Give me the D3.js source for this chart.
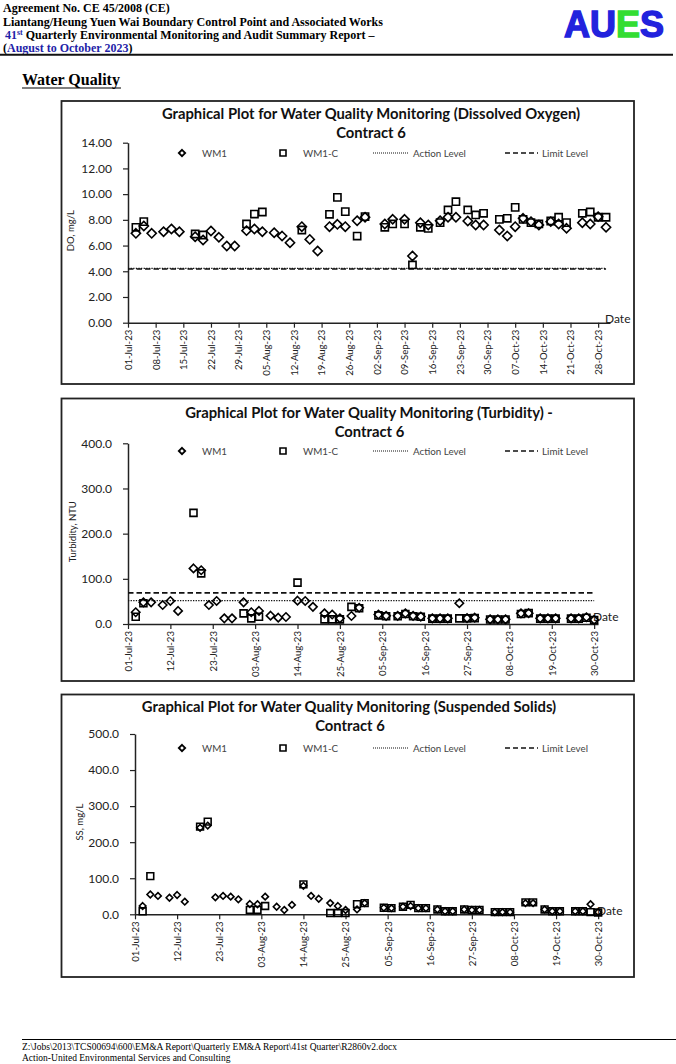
<!DOCTYPE html>
<html>
<head>
<meta charset="utf-8">
<script src="https://cdn.jsdelivr.net/npm/d3@7"></script>
<style>
  body { margin: 0; background: #fff; }
  .hdr { font-family: "Liberation Serif", "DejaVu Serif", serif; font-weight: bold; font-size: 12px; fill: #000; }
  .blue { fill: #1f1fa8; }
  .foot { font-family: "Liberation Serif", serif; font-size: 9.5px; fill: #000; }
  .chart text { font-family: Lato, "Open Sans", sans-serif; }
</style>
</head>
<body>
<svg id="page" width="676" height="1064"></svg>
<script>
// sampling days (Mon/Wed/Fri mostly), shared by the three plots
var sampleDates = [
  "2023-07-03", "2023-07-05", "2023-07-07", "2023-07-10", "2023-07-12", "2023-07-14", "2023-07-18",
  "2023-07-20", "2023-07-22", "2023-07-24", "2023-07-26", "2023-07-28", "2023-07-31",
  "2023-08-02", "2023-08-04", "2023-08-07", "2023-08-09", "2023-08-11", "2023-08-14", "2023-08-16",
  "2023-08-18", "2023-08-21", "2023-08-23", "2023-08-25", "2023-08-28", "2023-08-30",
  "2023-09-04", "2023-09-06", "2023-09-09", "2023-09-11", "2023-09-13", "2023-09-15", "2023-09-18",
  "2023-09-20", "2023-09-22", "2023-09-25", "2023-09-27", "2023-09-29",
  "2023-10-03", "2023-10-05", "2023-10-07", "2023-10-09", "2023-10-11", "2023-10-13", "2023-10-16",
  "2023-10-18", "2023-10-20", "2023-10-24", "2023-10-26", "2023-10-28", "2023-10-30"
];

// Dissolved oxygen, mg/L
var doWM1 = [
  6.95, 7.52, 6.95, 7.08, 7.29, 7.08, 6.69, 6.43, 7.13, 6.64, 5.97, 5.97, 7.16,
  7.29, 7.08, 7.00, 6.74, 6.22, 7.47, 6.48, 5.58, 7.47, 7.65, 7.47, 7.93, 8.20,
  7.68, 8.04, 8.04, 5.19, 7.78, 7.60, 7.93, 8.20, 8.20, 7.91, 7.60, 7.60,
  7.21, 6.74, 7.47, 8.12, 7.86, 7.60, 7.86, 7.68, 7.34, 7.78, 7.68, 8.25, 7.42
];
var doWM1C = [
  7.42, 7.86, null, null, null, null, 6.90, 6.82, null, null, null, null, 7.68,
  8.45, 8.61, null, null, null, 7.21, null, null, 8.43, 9.75, 8.64, 6.74, 8.25,
  7.42, 7.68, 7.68, 4.49, 7.42, 7.34, 7.78, 8.77, 9.41, 8.77, 8.38, 8.51,
  8.04, 8.12, 8.97, 8.04, 7.78, 7.68, 7.91, 8.20, 7.78, 8.51, 8.61, 8.20, 8.20
];

// Turbidity, NTU
var turbWM1 = [
  26, 48, 48, 42, 51, 29, 123, 119, 42, 51, 12.5, 12.5, 48,
  26, 29, 18.5, 14, 15.5, 51.6, 51, 38, 23.6, 21, 12.5, 17.7, 36,
  21, 18, 18, 23.6, 18, 16.5, 12.5, 12.5, 12.5, 46, 13, 14,
  10.3, 10.3, 10.3, null, 23.6, 24, 12.5, 12.5, 12.5, 12.5, 12.5, 15, 9
];
var turbWM1C = [
  16, 46, null, null, null, null, 246, 112, null, null, null, null, 23.6,
  12.5, 16, null, null, null, 91.5, null, null, 10.3, 10.3, 10.3, 38, 35,
  19, 17, 17, 22, 17, 16, 12, 12, 12, 12.5, 12.5, 13,
  10, 10, 10, null, 22, 24, 12, 12, 12, 12, 12, 14, 9
];

// Suspended solids, mg/L
var ssWM1 = [
  23, 55, 51, 46, 53.5, 35, 240, 246, 47, 51, 49, 41.5, 28.5,
  28, 49, 21, 12, 26, 79, 51, 43, 31, 23, 12, 13.5, 31,
  18, 17, 21, 23, 17, 17, 13.5, 8.5, 8.5, 13.5, 12, 12,
  6, 6, 6, null, 31, 31, 13.5, 8.5, 8.5, 8.5, 8.5, 28, 6
];
var ssWM1C = [
  8.3, 106, null, null, null, null, 243, 257, null, null, null, null, 12,
  12, 23, null, null, null, 83, null, null, 3.5, 3.5, 3.5, 28, 31,
  18, 17, 21, 26, 17, 17, 13.5, 8.5, 8.5, 13.5, 12, 12,
  6, 6, 6, null, 33, 33, 13.5, 8.5, 8.5, 8.5, 8.5, 6, 5
];

// action / limit levels (SS levels sit outside the plotted range)
var doAction = 4.22, doLimit = 4.18;
var turbAction = 51.6, turbLimit = 69;
var ssAction = null, ssLimit = null;

var weeklyTicks = ["01-Jul-23", "08-Jul-23", "15-Jul-23", "22-Jul-23", "29-Jul-23", "05-Aug-23",
  "12-Aug-23", "19-Aug-23", "26-Aug-23", "02-Sep-23", "09-Sep-23", "16-Sep-23", "23-Sep-23",
  "30-Sep-23", "07-Oct-23", "14-Oct-23", "21-Oct-23", "28-Oct-23"];
var elevenDayTicks = ["01-Jul-23", "12-Jul-23", "23-Jul-23", "03-Aug-23", "14-Aug-23", "25-Aug-23",
  "05-Sep-23", "16-Sep-23", "27-Sep-23", "08-Oct-23", "19-Oct-23", "30-Oct-23"];

var parseIso = d3.timeParse("%Y-%m-%d");
var parseTick = d3.timeParse("%d-%b-%y");
var svg = d3.select("#page");

// ---------- page header ----------
svg.append("text").attr("class", "hdr").attr("x", 3).attr("y", 12).text("Agreement No. CE 45/2008 (CE)");
svg.append("text").attr("class", "hdr").attr("x", 3).attr("y", 25.5)
  .text("Liantang/Heung Yuen Wai Boundary Control Point and Associated Works");
var l3 = svg.append("text").attr("class", "hdr").attr("x", 5).attr("y", 39);
l3.append("tspan").attr("class", "blue").text("41");
l3.append("tspan").attr("class", "blue").style("font-size", "8px").attr("dy", -4).text("st");
l3.append("tspan").attr("dy", 4).text(" Quarterly Environmental Monitoring and Audit Summary Report \u2013");
var l4 = svg.append("text").attr("class", "hdr").attr("x", 3).attr("y", 52);
l4.append("tspan").text("(");
l4.append("tspan").attr("class", "blue").text("August to October 2023");
l4.append("tspan").text(")");

var logo = svg.append("text").attr("x", 564).attr("y", 37)
  .attr("font-family", "Liberation Sans, Arial, sans-serif").attr("font-weight", "bold")
  .attr("font-size", 36).attr("stroke-width", 1.4);
[["A", "#2222dd"], ["U", "#2222dd"], ["E", "#33dd33"], ["S", "#2222dd"]].forEach(function (p) {
  logo.append("tspan").attr("fill", p[1]).attr("stroke", p[1]).text(p[0]);
});

svg.append("line").attr("x1", 0).attr("x2", 673).attr("y1", 54.8).attr("y2", 54.8)
  .attr("stroke", "#111").attr("stroke-width", 2);

svg.append("text").attr("class", "hdr").attr("x", 22).attr("y", 84.5).style("font-size", "16px")
  .text("Water Quality");
svg.append("line").attr("x1", 22).attr("x2", 121).attr("y1", 88).attr("y2", 88)
  .attr("stroke", "#000").attr("stroke-width", 1.2);

// ---------- footer ----------
svg.append("line").attr("x1", 22).attr("x2", 676).attr("y1", 1039.5).attr("y2", 1039.5)
  .attr("stroke", "#000").attr("stroke-width", 1);
svg.append("text").attr("class", "foot").attr("x", 22).attr("y", 1050)
  .text("Z:\\Jobs\\2013\\TCS00694\\600\\EM&A Report\\Quarterly EM&A Report\\41st Quarter\\R2860v2.docx");
svg.append("text").attr("class", "foot").attr("x", 22).attr("y", 1061)
  .text("Action-United Environmental Services and Consulting");

// ---------- charts ----------
function diamond(r) {
  return "M0," + (-r) + "L" + r + ",0L0," + r + "L" + (-r) + ",0Z";
}
function square(h) {
  return "M" + (-h) + "," + (-h) + "H" + h + "V" + h + "H" + (-h) + "Z";
}

function drawChart(c) {
  var g = svg.append("g").attr("class", "chart");

  g.append("rect")
    .attr("x", c.frame[0]).attr("y", c.frame[1])
    .attr("width", c.frame[2] - c.frame[0]).attr("height", c.frame[3] - c.frame[1])
    .attr("fill", "#fff").attr("stroke", "#222").attr("stroke-width", 1.8);

  // titles
  g.append("text").attr("x", c.titleX).attr("y", c.titleY[0]).attr("text-anchor", "middle")
    .attr("font-weight", "bold").attr("font-size", 14.8).attr("fill", "#111").text(c.title);
  g.append("text").attr("x", c.titleX2).attr("y", c.titleY[1]).attr("text-anchor", "middle")
    .attr("font-weight", "bold").attr("font-size", 14.8).attr("fill", "#111").text("Contract 6");

  var x = d3.scaleTime()
    .domain([parseIso("2023-07-01"), parseIso("2023-10-31")])
    .range([c.left, c.right]);
  var y = d3.scaleLinear().domain([0, c.yMax]).range([c.bottom, c.top]);

  // y axis
  var yAxis = d3.axisLeft(y)
    .tickValues(d3.range(0, c.yMax + c.yStep / 2, c.yStep))
    .tickFormat(d3.format(c.fmt))
    .tickSize(5).tickSizeOuter(0).tickPadding(c.yPad);
  var ya = g.append("g").attr("transform", "translate(" + c.left + ",0)").call(yAxis);
  ya.selectAll("text").attr("font-size", 12).attr("fill", "#222");

  // x axis
  var tickDates = c.ticks.map(function (t) { return parseTick(t); });
  var xAxis = d3.axisBottom(x)
    .tickValues(tickDates)
    .tickFormat(function (d, i) { return c.ticks[i]; })
    .tickSize(5).tickSizeOuter(0);
  var xa = g.append("g").attr("transform", "translate(0," + c.bottom + ")").call(xAxis);
  xa.selectAll("text")
    .attr("font-size", 9.6).attr("fill", "#222")
    .attr("text-anchor", "end")
    .attr("transform", "rotate(-90)")
    .attr("x", -7).attr("y", 0).attr("dy", "0.35em");

  [ya, xa].forEach(function (a) {
    a.select(".domain").attr("stroke", "#222").attr("stroke-width", 1.5);
    a.selectAll(".tick line").attr("stroke", "#222").attr("stroke-width", 1.2);
  });

  g.append("text").attr("x", c.right - 5).attr("y", c.bottom + c.dateDy)
    .attr("font-size", 12).attr("fill", "#222").text("Date");

  // y axis title
  g.append("text")
    .attr("transform", "translate(" + c.yLabelX + "," + ((c.top + c.bottom) / 2 - 2) + ") rotate(-90)")
    .attr("text-anchor", "middle").attr("font-size", 9.5).attr("fill", "#222")
    .text(c.yLabel);

  // action / limit lines
  var lastDate = parseIso(sampleDates[sampleDates.length - 1]);
  if (c.action !== null) {
    g.append("line")
      .attr("x1", c.left).attr("x2", x(lastDate))
      .attr("y1", y(c.action)).attr("y2", y(c.action))
      .attr("stroke", "#111").attr("stroke-width", 1.3).attr("stroke-dasharray", "1.3,1.3");
  }
  if (c.limit !== null) {
    g.append("line")
      .attr("x1", c.left).attr("x2", x(lastDate))
      .attr("y1", y(c.limit)).attr("y2", y(c.limit))
      .attr("stroke", "#111").attr("stroke-width", 1.6).attr("stroke-dasharray", "5.5,3");
  }

  // markers
  function pts(vals) {
    return sampleDates.map(function (d, i) { return { date: parseIso(d), v: vals[i] }; })
      .filter(function (p) { return p.v !== null; });
  }
  g.append("g").selectAll("path").data(pts(c.wm1)).enter().append("path")
    .attr("d", diamond(c.dSize))
    .attr("transform", function (p) { return "translate(" + x(p.date) + "," + y(p.v) + ")"; })
    .attr("fill", "none").attr("stroke", "#000").attr("stroke-width", 1.6);
  g.append("g").selectAll("path").data(pts(c.wm1c)).enter().append("path")
    .attr("d", square(c.sSize))
    .attr("transform", function (p) { return "translate(" + x(p.date) + "," + y(p.v) + ")"; })
    .attr("fill", "none").attr("stroke", "#000").attr("stroke-width", 1.6);

  // legend
  var ly = c.legendY;
  var leg = g.append("g").attr("font-size", 9.8).attr("fill", "#444");
  leg.append("path").attr("d", diamond(3.2)).attr("transform", "translate(182," + ly + ")")
    .attr("fill", "none").attr("stroke", "#000").attr("stroke-width", 1.8);
  leg.append("text").attr("x", 202).attr("y", ly + 3.5).text("WM1");
  leg.append("path").attr("d", square(3)).attr("transform", "translate(283," + ly + ")")
    .attr("fill", "none").attr("stroke", "#000").attr("stroke-width", 1.6);
  leg.append("text").attr("x", 303).attr("y", ly + 3.5).text("WM1-C");
  leg.append("line").attr("x1", 373).attr("x2", 408).attr("y1", ly).attr("y2", ly)
    .attr("stroke", "#111").attr("stroke-width", 1.1).attr("stroke-dasharray", "1,1");
  leg.append("text").attr("x", 413).attr("y", ly + 3.5).text("Action Level");
  leg.append("line").attr("x1", 505).attr("x2", 538).attr("y1", ly).attr("y2", ly)
    .attr("stroke", "#111").attr("stroke-width", 1.6).attr("stroke-dasharray", "5,3");
  leg.append("text").attr("x", 542).attr("y", ly + 3.5).text("Limit Level");
}

drawChart({
  frame: [61.5, 101, 634, 384],
  title: "Graphical Plot for Water Quality Monitoring (Dissolved Oxygen)",
  titleX: 371, titleX2: 371, titleY: [118.5, 137.5],
  left: 128, right: 610, top: 142.7, bottom: 322.7,
  yMax: 14, yStep: 2, fmt: ".2f", yPad: 11, yLabel: "DO, mg/L", yLabelX: 74,
  ticks: weeklyTicks, dateDy: 0,
  wm1: doWM1, wm1c: doWM1C, action: doAction, limit: doLimit,
  dSize: 4.6, sSize: 3.6, legendY: 153
});

drawChart({
  frame: [61.5, 398.5, 634, 681],
  title: "Graphical Plot for Water Quality Monitoring (Turbidity)  -",
  titleX: 369, titleX2: 369.5, titleY: [417.5, 436.5],
  left: 128, right: 598, top: 443.3, bottom: 624,
  yMax: 400, yStep: 100, fmt: ".1f", yPad: 11, yLabel: "Turbidity, NTU", yLabelX: 76,
  ticks: elevenDayTicks, dateDy: -3,
  wm1: turbWM1, wm1c: turbWM1C, action: turbAction, limit: turbLimit,
  dSize: 4.2, sSize: 3.5, legendY: 451
});

drawChart({
  frame: [61.5, 694.5, 634, 977],
  title: "Graphical Plot for Water Quality Monitoring (Suspended Solids)",
  titleX: 349, titleX2: 350, titleY: [711.5, 730.5],
  left: 135, right: 602, top: 734, bottom: 914.3,
  yMax: 500, yStep: 100, fmt: ".1f", yPad: 11, yLabel: "SS, mg/L", yLabelX: 83,
  ticks: elevenDayTicks, dateDy: 1,
  wm1: ssWM1, wm1c: ssWM1C, action: ssAction, limit: ssLimit,
  dSize: 3.3, sSize: 3.4, legendY: 748
});
</script>
</body>
</html>
